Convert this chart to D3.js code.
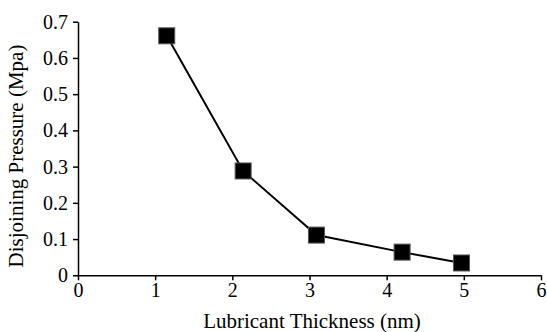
<!DOCTYPE html>
<html lang="en">
<head>
<meta charset="utf-8">
<title>Disjoining Pressure</title>
<script src="https://d3js.org/d3.v7.min.js"></script>
<style>
  body { margin: 0; background: #fff; }
  .axis path, .axis line { stroke: #000; stroke-width: 1.5; }
</style>
</head>
<body>
<script>
// data
var thickness = [1.15, 2.14, 3.09, 4.20, 4.97];
var pressure = [0.661, 0.288, 0.111, 0.064, 0.034];
var xTicks = [0, 1, 2, 3, 4, 5, 6];
var yTicks = [0, 0.1, 0.2, 0.3, 0.4, 0.5, 0.6, 0.7];

var serif = "Liberation Serif";
var fsize = 20;

var W = 547, H = 332;
var margin = {top: 21.7, right: 6, bottom: 56.7, left: 78};
var width = W - margin.left - margin.right;
var height = H - margin.top - margin.bottom;

var svg = d3.select("body").append("svg")
  .attr("width", W)
  .attr("height", H);

var g = svg.append("g")
  .attr("transform", "translate(" + margin.left + "," + margin.top + ")");

var x = d3.scaleLinear().domain([0, 6]).range([0, 463]);
var y = d3.scaleLinear().domain([0, 0.7]).range([height, 0]);

g.append("g")
  .attr("class", "axis")
  .attr("transform", "translate(0," + height + ")")
  .call(d3.axisBottom(x).tickValues(xTicks).tickSize(5).tickSizeOuter(0).tickPadding(3)
    .tickFormat(d3.format("d")));

g.append("g")
  .attr("class", "axis")
  .call(d3.axisLeft(y).tickValues(yTicks).tickSize(5).tickSizeOuter(0).tickPadding(5)
    .tickFormat(function(d) { return d === 0 ? "0" : d3.format(".1f")(d); }));

svg.selectAll(".axis")
  .attr("font-family", serif)
  .attr("font-size", fsize)
  .selectAll("text").attr("fill", "#000");

var pts = thickness.map(function(d, i) { return {x: d, y: pressure[i]}; });

g.append("path")
  .datum(pts)
  .attr("fill", "none")
  .attr("stroke", "#000")
  .attr("stroke-width", 2)
  .attr("d", d3.line().x(function(d) { return x(d.x); }).y(function(d) { return y(d.y); }));

var s = 16;
g.selectAll(".pt")
  .data(pts).enter()
  .append("rect")
  .attr("class", "pt")
  .attr("x", function(d) { return x(d.x) - s / 2; })
  .attr("y", function(d) { return y(d.y) - s / 2; })
  .attr("width", s)
  .attr("height", s)
  .attr("fill", "#000")
  .attr("stroke", "#555")
  .attr("stroke-width", 1);

// axis titles
svg.append("text")
  .attr("x", 312)
  .attr("y", 328)
  .attr("text-anchor", "middle")
  .attr("font-family", serif)
  .attr("font-size", 21)
  .text("Lubricant Thickness (nm)");

svg.append("text")
  .attr("transform", "translate(23,156) rotate(-90)")
  .attr("text-anchor", "middle")
  .attr("font-family", serif)
  .attr("font-size", 21)
  .text("Disjoining Pressure (Mpa)");
</script>
</body>
</html>
